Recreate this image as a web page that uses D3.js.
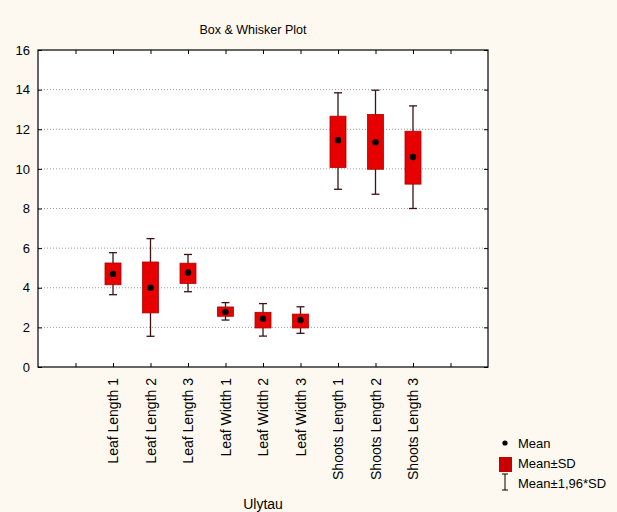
<!DOCTYPE html>
<html>
<head>
<meta charset="utf-8">
<script src="https://cdn.jsdelivr.net/npm/d3@7"></script>
<style>
    html, body { margin: 0; padding: 0; background: #fdf9f0; }
    svg { display: block; }
    text { font-family: "Liberation Sans", Arial, sans-serif; fill: #000; }
</style>
</head>
<body>
<svg id="chart" width="617" height="512"></svg>
<script>
// data
const categories = ['Leaf Length 1', 'Leaf Length 2', 'Leaf Length 3',
    'Leaf Width 1', 'Leaf Width 2', 'Leaf Width 3',
    'Shoots Length 1', 'Shoots Length 2', 'Shoots Length 3'];
const means    = [4.70, 4.00, 4.77, 2.78, 2.44, 2.37, 11.45, 11.35, 10.60];
const sdLow    = [4.15, 2.73, 4.22, 2.56, 1.97, 1.97, 10.07, 9.98, 9.23];
const sdHigh   = [5.25, 5.30, 5.24, 3.03, 2.76, 2.67, 12.66, 12.75, 11.90];
const ciLow    = [3.65, 1.55, 3.80, 2.37, 1.56, 1.70, 8.97, 8.72, 8.00];
const ciHigh   = [5.77, 6.48, 5.68, 3.25, 3.20, 3.04, 13.84, 13.97, 13.18];
const yTicks   = [0, 2, 4, 6, 8, 10, 12, 14, 16];
const legendLabels = ['Mean', 'Mean±SD', 'Mean±1,96*SD'];

const rows = categories.map((c, i) => ({
    name: c, slot: i + 2, mean: means[i],
    lo: sdLow[i], hi: sdHigh[i], wlo: ciLow[i], whi: ciHigh[i]
}));

const svg = d3.select('#chart');
const m = { left: 38, right: 488, top: 50, bottom: 367 };

const x = d3.scaleLinear().domain([0, 12]).range([m.left, m.right]);
const y = d3.scaleLinear().domain([0, 16]).range([m.bottom, m.top]);

// plot area
svg.append('rect')
    .attr('x', m.left).attr('y', m.top)
    .attr('width', m.right - m.left).attr('height', m.bottom - m.top)
    .attr('fill', '#fff');

// grid
svg.append('g').selectAll('line')
    .data(yTicks.filter(t => t > 0 && t < 16))
    .join('line')
    .attr('x1', m.left).attr('x2', m.right)
    .attr('y1', d => y(d)).attr('y2', d => y(d))
    .attr('stroke', '#9a9a9a').attr('stroke-width', 1)
    .attr('stroke-dasharray', '1,2');

// title
svg.append('text')
    .attr('x', 253).attr('y', 34)
    .attr('text-anchor', 'middle')
    .style('font-size', '12.5px')
    .text('Box & Whisker Plot');

// axes
const slots = d3.range(1, 12);
svg.append('g')
    .attr('transform', `translate(0,${m.bottom})`)
    .call(d3.axisBottom(x).tickValues(slots).tickSize(-4).tickFormat(''))
    .call(g => g.select('.domain').remove());
svg.append('g')
    .attr('transform', `translate(0,${m.top})`)
    .call(d3.axisTop(x).tickValues(slots).tickSize(-4).tickFormat(''))
    .call(g => g.select('.domain').remove());
svg.append('g')
    .attr('transform', `translate(${m.left},0)`)
    .call(d3.axisLeft(y).tickValues(yTicks).tickSize(-4).tickPadding(8))
    .call(g => g.select('.domain').remove())
    .call(g => g.selectAll('text').style('font-size', '13px').attr('font-family', null));
svg.append('g')
    .attr('transform', `translate(${m.right},0)`)
    .call(d3.axisRight(y).tickValues(yTicks).tickSize(-4).tickFormat(''))
    .call(g => g.select('.domain').remove());

svg.append('rect')
    .attr('x', m.left).attr('y', m.top)
    .attr('width', m.right - m.left).attr('height', m.bottom - m.top)
    .attr('fill', 'none').attr('stroke', '#000').attr('stroke-width', 1.2);

// category labels
svg.append('g').selectAll('text')
    .data(rows)
    .join('text')
    .attr('transform', d => `translate(${x(d.slot) + 5},${m.bottom + 11}) rotate(-90)`)
    .attr('text-anchor', 'end')
    .style('font-size', '14px')
    .text(d => d.name);

svg.append('text')
    .attr('x', (m.left + m.right) / 2).attr('y', 509)
    .attr('text-anchor', 'middle')
    .style('font-size', '14px')
    .text('Ulytau');

// whiskers
const boxes = svg.append('g');
const cap = 4, half = 8;
boxes.selectAll('line.whisker')
    .data(rows)
    .join('line')
    .attr('class', 'whisker')
    .attr('x1', d => x(d.slot)).attr('x2', d => x(d.slot))
    .attr('y1', d => y(d.wlo)).attr('y2', d => y(d.whi))
    .attr('stroke', '#3a1414').attr('stroke-width', 1.3);
['wlo', 'whi'].forEach(k => {
    boxes.selectAll('line.cap-' + k)
        .data(rows)
        .join('line')
        .attr('class', 'cap-' + k)
        .attr('x1', d => x(d.slot) - cap).attr('x2', d => x(d.slot) + cap)
        .attr('y1', d => y(d[k])).attr('y2', d => y(d[k]))
        .attr('stroke', '#3a1414').attr('stroke-width', 1.3);
});

// SD boxes
boxes.selectAll('rect')
    .data(rows)
    .join('rect')
    .attr('x', d => x(d.slot) - half).attr('width', half * 2)
    .attr('y', d => y(d.hi)).attr('height', d => y(d.lo) - y(d.hi))
    .attr('fill', '#e60000').attr('stroke', '#b00000').attr('stroke-width', 0.8);

// means
boxes.selectAll('circle')
    .data(rows)
    .join('circle')
    .attr('cx', d => x(d.slot)).attr('cy', d => y(d.mean))
    .attr('r', 3.2).attr('fill', '#000');

// legend
const lg = svg.append('g').attr('transform', 'translate(505,0)');
lg.append('circle').attr('cx', 0).attr('cy', 443).attr('r', 2.6).attr('fill', '#000');
lg.append('rect').attr('x', -6).attr('y', 457).attr('width', 13).attr('height', 15)
    .attr('fill', '#c80000');
lg.append('line').attr('x1', 0).attr('x2', 0).attr('y1', 474).attr('y2', 490)
    .attr('stroke', '#000').attr('stroke-width', 1);
[474, 490].forEach(v => lg.append('line')
    .attr('x1', -3).attr('x2', 3).attr('y1', v).attr('y2', v)
    .attr('stroke', '#000').attr('stroke-width', 1));
lg.selectAll('text.lab')
    .data(legendLabels)
    .join('text')
    .attr('class', 'lab')
    .attr('x', 13)
    .attr('y', (d, i) => 448 + i * 20)
    .style('font-size', '13px')
    .text(d => d);
</script>
</body>
</html>
